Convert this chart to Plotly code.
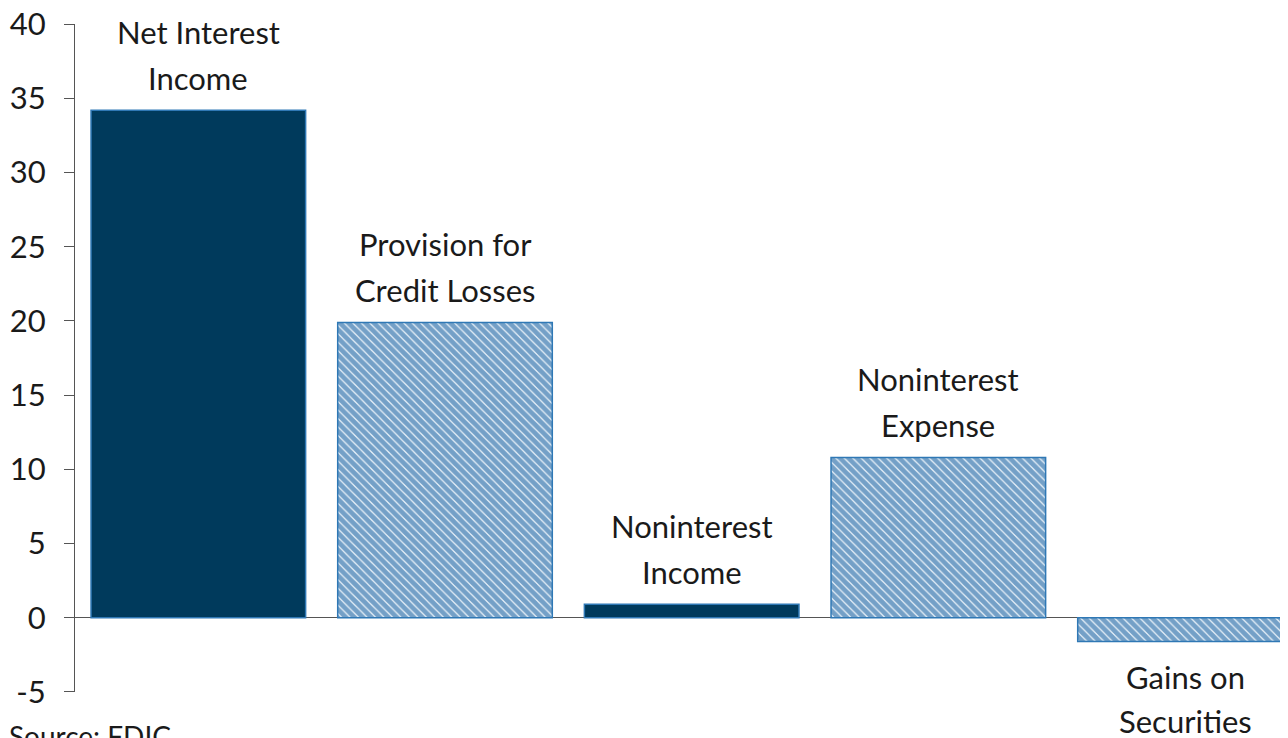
import plotly.graph_objects as go

categories = ["Net Interest Income", "Provision for Credit Losses", "Noninterest Income",
              "Noninterest Expense", "Gains on Securities"]
label_lines = [["Net Interest", "Income"], ["Provision for", "Credit Losses"],
               ["Noninterest", "Income"], ["Noninterest", "Expense"], ["Gains on", "Securities"]]
values = [34.2, 19.9, 0.9, 10.8, -1.6]
patterned = [False, True, False, True, True]
y_ticks = [-5, 0, 5, 10, 15, 20, 25, 30, 35, 40]
y_tick_text = ["-5", "0", "5", "10", "15", "20", "25", "30", "35", "40"]

DARK = "#003a5c"
BLUE = "#005096"
EDGE = "#2f78b5"
FONT = "Lato"
TXT = "#1a1a1a"

solid_vals = [v if not p else None for v, p in zip(values, patterned)]
pat_vals = [v if p else None for v, p in zip(values, patterned)]

fig = go.Figure()
fig.add_trace(go.Bar(
    x=categories, y=solid_vals,
    marker=dict(color=DARK, line=dict(color=EDGE, width=1.5)),
    hoverinfo="skip",
))
fig.add_trace(go.Bar(
    x=categories, y=pat_vals,
    marker=dict(color="#e8f0f8", line=dict(color=EDGE, width=1.5),
                pattern=dict(shape="\\", fgcolor=BLUE, bgcolor="#e8f0f8",
                             size=6, solidity=0.8, fillmode="overlay")),
    hoverinfo="skip",
))

annotations = []
for cat, val, lines in zip(categories, values, label_lines):
    n = len(lines)
    for k, line in enumerate(lines):
        if val >= 0:
            ys = 32 + (n - 1 - k) * 46
        else:
            ys = -(36 + k * 44)
        annotations.append(dict(x=cat, y=val, xref="x", yref="y", text=line,
                                showarrow=False, yanchor="middle", yshift=ys,
                                font=dict(family=FONT, size=31, color=TXT)))
annotations.append(dict(x=0, y=0, xref="paper", yref="paper", xanchor="left",
                        yanchor="top", xshift=-68, yshift=-25, text="Source: FDIC",
                        showarrow=False, font=dict(family=FONT, size=28, color=TXT)))

fig.update_layout(
    width=1288, height=738,
    margin=dict(l=67, r=0, t=16, b=54),
    plot_bgcolor="white", paper_bgcolor="white",
    showlegend=False, bargap=0.13, barmode="overlay",
    annotations=annotations,
    xaxis=dict(range=[-0.5, 4.45], showticklabels=False, showline=False,
               showgrid=False, zeroline=False, ticks="", automargin=False),
    yaxis=dict(range=[-5.01, 40.01], tickvals=y_ticks, ticktext=y_tick_text,
               showgrid=False, zeroline=True, automargin=False,
               zerolinecolor="#555555", zerolinewidth=1,
               showline=True, linecolor="#555555", linewidth=1,
               ticks="outside", ticklen=10, tickcolor="#555555",
               ticklabelstandoff=12, ticklabeloverflow="allow",
               tickfont=dict(family=FONT, size=31, color=TXT)),
)

fig.write_html("out.html")
